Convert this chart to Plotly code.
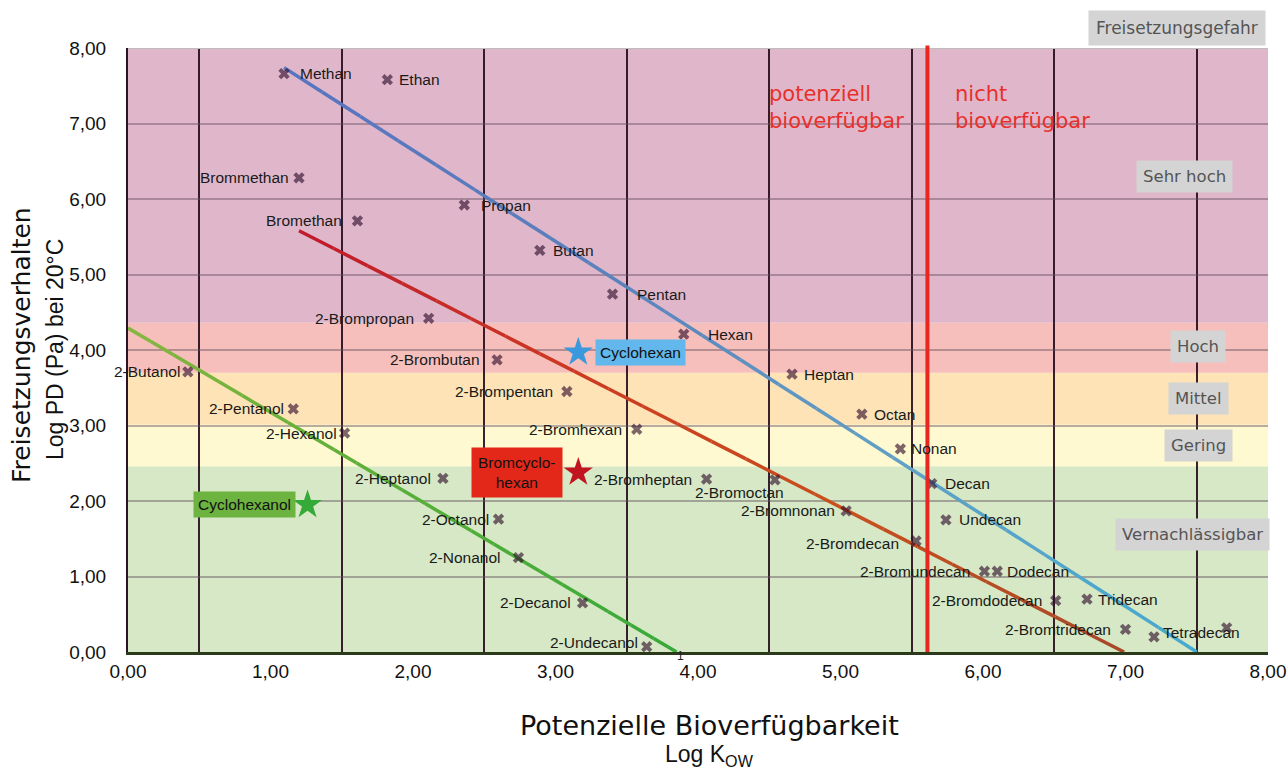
import plotly.graph_objects as go

# ---------------- data ----------------
names = ["Methan", "Ethan", "Propan", "Butan", "Pentan", "Hexan", "Heptan", "Octan",
         "Nonan", "Decan", "Undecan", "Dodecan", "Tridecan", "Tetradecan", "",
         "Brommethan", "Bromethan", "2-Brompropan", "2-Brombutan", "2-Brompentan",
         "2-Bromhexan", "2-Bromheptan", "2-Bromoctan", "2-Bromnonan", "2-Bromdecan",
         "2-Bromundecan", "2-Bromdodecan", "2-Bromtridecan",
         "2-Butanol", "2-Pentanol", "2-Hexanol", "2-Heptanol", "2-Octanol",
         "2-Nonanol", "2-Decanol", "2-Undecanol"]
log_kow = [1.095, 1.82, 2.36, 2.89, 3.40, 3.90, 4.66, 5.15,
           5.42, 5.64, 5.74, 6.10, 6.73, 7.20, 7.71,
           1.20, 1.61, 2.11, 2.59, 3.08,
           3.57, 4.06, 4.54, 5.04, 5.53,
           6.01, 6.51, 7.00,
           0.42, 1.16, 1.52, 2.21, 2.60,
           2.74, 3.19, 3.64]
log_pd = [7.66, 7.58, 5.92, 5.32, 4.74, 4.21, 3.68, 3.15,
          2.69, 2.23, 1.75, 1.07, 0.70, 0.20, 0.32,
          6.28, 5.71, 4.42, 3.87, 3.45,
          2.95, 2.29, 2.28, 1.87, 1.47,
          1.07, 0.68, 0.30,
          3.71, 3.22, 2.90, 2.30, 1.76,
          1.25, 0.65, 0.07]

star_names = ["Cyclohexan", "Bromcyclo-<br>hexan", "Cyclohexanol"]
star_kow = [3.16, 3.16, 1.26]
star_pd = [3.97, 2.38, 1.95]

fit_alkane_x = [1.095, 7.50]
fit_alkane_y = [7.74, 0.00]
fit_brom_x = [1.20, 6.99]
fit_brom_y = [5.58, 0.00]
fit_alcohol_x = [0.00, 3.85]
fit_alcohol_y = [4.29, 0.00]

band_edges = [0.0, 2.46, 3.01, 3.70, 4.36, 8.0]
band_names = ["Vernachlässigbar", "Gering", "Mittel", "Hoch", "Sehr hoch"]

x_ticks = [0, 1, 2, 3, 4, 5, 6, 7, 8]
y_ticks = [0, 1, 2, 3, 4, 5, 6, 7, 8]
bio_threshold = 5.61

# ---------------- styles ----------------
band_colors = ["#d6e8c5", "#fef9d0", "#fde3b6", "#f6bfbb", "#e0b7ca"]
star_colors = ["#3a98dc", "#c2141e", "#36aa38"]
star_box = ["#62b8ec", "#e3281a", "#6db33f"]
LABEL_FONT = "Liberation Sans, Arial, sans-serif"
TICK_FONT = "Liberation Sans, Arial, sans-serif"
HAND_FONT = "DejaVu Sans, sans-serif"

# label placement: (side, xshift, yshift)
label_pos = {
    "Methan": ("l", 14, 0), "Ethan": ("l", 10, 0), "Propan": ("l", 15, 0),
    "Butan": ("l", 11, 0), "Pentan": ("l", 22, 0), "Hexan": ("l", 22, 0),
    "Heptan": ("l", 10, 0), "Octan": ("l", 10, 0), "Nonan": ("l", 9, 0),
    "Decan": ("l", 11, 0), "Undecan": ("l", 11, 0), "Dodecan": ("l", 8, 0),
    "Tridecan": ("l", 9, 0), "Tetradecan": ("l", 7, 4),
    "Brommethan": ("r", -8, 0), "Bromethan": ("r", -13, 0),
    "2-Brompropan": ("r", -13, 0), "2-Brombutan": ("r", -15, 0),
    "2-Brompentan": ("r", -12, 0), "2-Bromhexan": ("r", -13, 0),
    "2-Bromheptan": ("r", -13, 0), "2-Bromoctan": ("r", 11, -13),
    "2-Bromnonan": ("r", -9, 0), "2-Bromdecan": ("r", -15, -2),
    "2-Bromundecan": ("r", -12, 0), "2-Bromdodecan": ("r", -12, 0),
    "2-Bromtridecan": ("r", -13, 0),
    "2-Butanol": ("r", -6, 0), "2-Pentanol": ("r", -7, 0), "2-Hexanol": ("r", -6, 0),
    "2-Heptanol": ("r", -10, 0), "2-Octanol": ("r", -8, 0), "2-Nonanol": ("r", -15, 0),
    "2-Decanol": ("r", -10, 0), "2-Undecanol": ("r", -7, 4),
}


def lerp_color(c1, c2, t):
    a = [int(c1[i:i + 2], 16) for i in (1, 3, 5)]
    b = [int(c2[i:i + 2], 16) for i in (1, 3, 5)]
    return "rgb(%d,%d,%d)" % tuple(round(a[k] + (b[k] - a[k]) * t) for k in range(3))


def gradient_line(fig, xs, ys, stops, width=3.5, n=24):
    # draw the straight fit line as short pieces so its colour can fade
    for i in range(n):
        t0, t1 = i / n, (i + 1) / n
        tm = (t0 + t1) / 2
        seg = len(stops) - 1
        k = min(int(tm * seg), seg - 1)
        col = lerp_color(stops[k], stops[k + 1], tm * seg - k)
        fig.add_trace(go.Scatter(
            x=[xs[0] + (xs[1] - xs[0]) * t0, xs[0] + (xs[1] - xs[0]) * t1],
            y=[ys[0] + (ys[1] - ys[0]) * t0, ys[0] + (ys[1] - ys[0]) * t1],
            mode="lines", line=dict(color=col, width=width),
            hoverinfo="skip", showlegend=False))


fig = go.Figure()

# background bands
shapes = []
for i in range(len(band_names)):
    shapes.append(dict(type="rect", xref="x", yref="y", x0=x_ticks[0], x1=x_ticks[-1],
                       y0=band_edges[i], y1=band_edges[i + 1], fillcolor=band_colors[i],
                       line=dict(width=0), layer="below"))
# top frame line
shapes.append(dict(type="line", xref="x", yref="y", x0=x_ticks[0], x1=x_ticks[-1],
                   y0=y_ticks[-1], y1=y_ticks[-1], line=dict(color="#bdbdbd", width=2)))
# bioavailability threshold
shapes.append(dict(type="line", xref="x", yref="paper", x0=bio_threshold, x1=bio_threshold,
                   y0=0, y1=1.004, line=dict(color="#e8281e", width=4)))

# fit lines
gradient_line(fig, fit_alkane_x, fit_alkane_y, ["#5874c0", "#5a80bc", "#62a0c4", "#44aad0"])
gradient_line(fig, fit_brom_x, fit_brom_y, ["#c01a2c", "#cc3a22", "#c8501e", "#a8482a"])
gradient_line(fig, fit_alcohol_x, fit_alcohol_y, ["#86b640", "#58ae38", "#38aa3a"])

# compounds
fig.add_trace(go.Scatter(
    x=log_kow, y=log_pd, mode="markers",
    marker=dict(symbol="x", size=10, color="rgba(45,10,40,0.62)", line=dict(width=0)),
    hovertext=names, showlegend=False))

# highlighted compounds
fig.add_trace(go.Scatter(
    x=star_kow, y=star_pd, mode="markers",
    marker=dict(symbol="star", size=22, color=star_colors, line=dict(width=0)),
    hovertext=star_names, showlegend=False))

annotations = []
for n, xv, yv in zip(names, log_kow, log_pd):
    if not n:
        continue
    side, xs, ys = label_pos[n]
    annotations.append(dict(x=xv, y=yv, xref="x", yref="y", text=n, showarrow=False,
                            xanchor="left" if side == "l" else "right", yanchor="middle",
                            xshift=xs, yshift=ys,
                            font=dict(family=LABEL_FONT, size=15.5, color="#1a1a1a")))

# boxed star labels
star_layout = [("left", 17, 0), ("right", -15, 0), ("right", -12, 0)]
for n, xv, yv, bc, (anc, xs, ys) in zip(star_names, star_kow, star_pd, star_box, star_layout):
    annotations.append(dict(x=xv, y=yv, xref="x", yref="y", text=n, showarrow=False,
                            xanchor=anc, yanchor="middle", xshift=xs, yshift=ys,
                            bgcolor=bc, borderpad=4 if "<br>" not in n else 6,
                            font=dict(family=LABEL_FONT, size=15.5, color="#111111")))

# category labels on the right
cat_pos = {"Sehr hoch": (0.927, 6.30), "Hoch": (0.9386, 4.04), "Mittel": (0.9386, 3.36),
           "Gering": (0.9386, 2.73), "Vernachlässigbar": (0.934, 1.55)}
for n in band_names:
    px, py = cat_pos[n]
    annotations.append(dict(x=px, y=py, xref="paper", yref="y", text=n, showarrow=False,
                            xanchor="center", yanchor="middle", bgcolor="#d4d4d4",
                            borderpad=6,
                            font=dict(family=HAND_FONT, size=16.5, color="#555555")))
annotations.append(dict(x=0.92, y=1.033, xref="paper", yref="paper", text="Freisetzungsgefahr",
                        showarrow=False, xanchor="center", yanchor="middle", bgcolor="#d4d4d4",
                        borderpad=7, font=dict(family=HAND_FONT, size=17, color="#555555")))

# red notes
for txt, px in [("potenziell<br>bioverfügbar", 0.5605), ("nicht<br>bioverfügbar", 0.7237)]:
    annotations.append(dict(x=px, y=0.947, xref="paper", yref="paper", text=txt, showarrow=False,
                            xanchor="left", yanchor="top", align="left",
                            font=dict(family=HAND_FONT, size=21, color="#e8302a")))

annotations.append(dict(x=3.88, y=0, xref="x", yref="y", text="1", showarrow=False,
                        xanchor="center", yanchor="middle", yshift=-4,
                        font=dict(family=TICK_FONT, size=12, color="#222222")))

# axis titles
annotations.append(dict(x=0.51, y=-0.1225, xref="paper", yref="paper",
                        text="Potenzielle Bioverfügbarkeit", showarrow=False,
                        xanchor="center", yanchor="middle",
                        font=dict(family=HAND_FONT, size=27, color="#111111")))
annotations.append(dict(x=0.51, y=-0.172, xref="paper", yref="paper",
                        text="Log K<sub>OW</sub>", showarrow=False,
                        xanchor="center", yanchor="middle",
                        font=dict(family=TICK_FONT, size=23, color="#111111")))
annotations.append(dict(x=-0.094, y=0.508, xref="paper", yref="paper",
                        text="Freisetzungsverhalten", showarrow=False, textangle=-90,
                        xanchor="center", yanchor="middle",
                        font=dict(family=HAND_FONT, size=25, color="#111111")))
annotations.append(dict(x=-0.064, y=0.50, xref="paper", yref="paper",
                        text="Log PD (Pa) bei 20°C", showarrow=False, textangle=-90,
                        xanchor="center", yanchor="middle",
                        font=dict(family=TICK_FONT, size=23, color="#111111")))

fig.update_layout(
    width=1288, height=771,
    margin=dict(l=128, r=20, t=48, b=119, autoexpand=False),
    paper_bgcolor="white", plot_bgcolor="white",
    separators=",.",
    shapes=shapes, annotations=annotations,
    showlegend=False,
    xaxis=dict(range=[x_ticks[0], x_ticks[-1]], tickvals=x_ticks, tickformat=".2f",
               showgrid=False, zeroline=False, automargin=False,
               showline=True, linecolor="#2c3a1c", linewidth=3,
               ticks="", tickfont=dict(family=TICK_FONT, size=19, color="#111111"),
               minor=dict(tickvals=[v + 0.5 for v in x_ticks[:-1]], showgrid=True,
                          gridcolor="rgba(35,10,25,0.9)", gridwidth=2, ticks="")),
    yaxis=dict(range=[y_ticks[0], y_ticks[-1]], tickvals=y_ticks, tickformat=".2f",
               showgrid=True, gridcolor="rgba(100,80,95,0.45)", gridwidth=2,
               zeroline=False, showline=True, linecolor="#2a1424", linewidth=2,
               ticks="", ticklabelstandoff=16, automargin=False,
               tickfont=dict(family=TICK_FONT, size=19, color="#111111")),
)

# remove the browser's default 8px page margin so the figure fills the window exactly
fig.write_html("out.html", config={"displayModeBar": False},
               post_script="document.body.style.margin='0';document.body.style.overflow='hidden';")
